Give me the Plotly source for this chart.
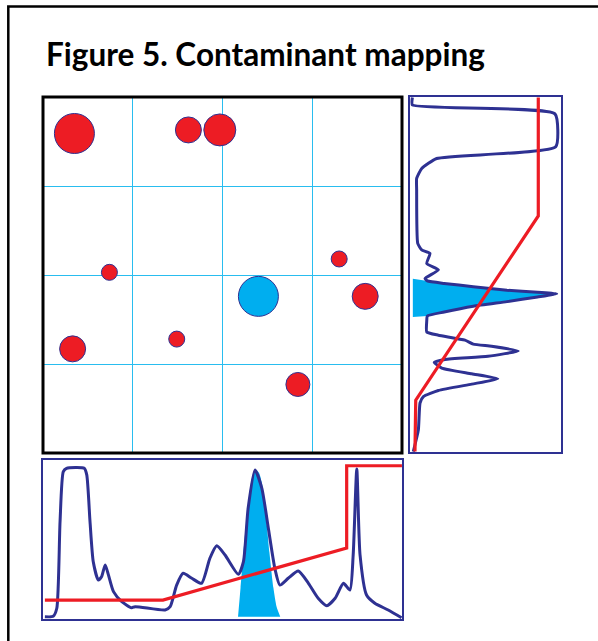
import plotly.graph_objects as go

W, H = 598, 641

# ---- contaminant map (grid units 0-4) ----
spot_x = [0.35, 1.62, 1.97, 0.74, 3.30, 2.40, 3.59, 1.49, 0.33, 2.84]
spot_y = [3.59, 3.63, 3.63, 2.03, 2.18, 1.76, 1.76, 1.28, 1.17, 0.77]
spot_d = [40, 26, 32, 16, 16, 40, 26, 16, 26, 24]
spot_kind = ["c", "c", "c", "c", "c", "target", "c", "c", "c", "c"]

# ---- side trace: detector signal vs elution time (time runs downward) ----
side_time = [0.4, 2.5, 5.0, 14.2, 17.5, 20.3, 23.1, 26.3, 41.3, 43.1, 44.1, 46.9,
             48.7, 51.1, 51.8, 52.5, 53.4, 54.4, 55.0, 55.4, 56.3, 57.6, 58.9,
             60.5, 61.6, 63.0, 66.1, 67.0, 68.4, 69.5, 70.1, 71.4, 72.9, 73.8,
             74.6, 76.2, 77.8, 79.2, 80.7, 82.5, 84.2, 86.0, 93.6, 99.6]
side_signal = [2.2, 2.2, 95.4, 95.9, 18.1, 8.3, 5.0, 5.0, 5.7, 8.3, 13.7, 11.6,
               19.2, 10.5, 12.0, 23.0, 42.0, 64.0, 84.0, 96.5, 84.0, 64.0, 42.0,
               23.0, 12.0, 11.6, 11.6, 19.2, 36.6, 42.0, 54.0, 71.4, 51.6, 23.5,
               16.5, 21.4, 41.0, 58.0, 41.0, 19.2, 9.4, 7.2, 6.1, 2.8]
side_peak_time = [51.2, 51.8, 52.5, 53.4, 54.4, 55.0, 55.4, 56.3, 57.6, 58.9, 60.5, 61.6, 61.9]
side_peak_signal = [2.5, 12.0, 23.0, 42.0, 64.0, 84.0, 96.5, 84.0, 64.0, 42.0, 23.0, 12.0, 2.5]
side_grad_time = [0.4, 33.6, 85.2, 99.6]
side_grad_level = [84.5, 84.5, 4.4, 3.9]

# ---- bottom trace: detector signal vs elution time ----
bot_time = [0.8, 3.1, 4.1, 5.0, 5.9, 6.8, 11.7, 12.4, 13.3, 14.2, 15.6, 16.5,
            17.5, 18.4, 19.8, 22.1, 24.8, 25.8, 34.1, 35.5, 37.3, 39.1, 41.5,
            44.2, 46.5, 48.4, 50.7, 54.4, 55.8, 57.1, 59.0, 60.9, 62.7, 64.5,
            65.9, 68.2, 71.0, 73.8, 76.5, 78.9, 81.2, 83.5, 85.3, 86.2, 87.2,
            88.1, 89.9, 92.2, 95.9, 99.6]
bot_signal = [2.0, 2.3, 7.3, 61.1, 92.1, 94.2, 94.2, 90.1, 61.1, 36.2, 24.8, 26.9,
              34.2, 28.0, 17.6, 11.4, 7.6, 8.3, 6.2, 8.3, 21.7, 29.0, 25.9,
              22.8, 38.3, 46.1, 40.4, 28.4, 36.2, 69.4, 93.2, 81.8, 57.0, 32.1,
              21.7, 25.9, 30.4, 22.8, 13.5, 8.9, 13.5, 22.8, 18.6, 40.4, 93.8,
              40.4, 15.5, 10.4, 6.2, 1.4]
bot_peak_time = [54.3, 55.0, 55.8, 56.8, 57.8, 58.6, 59.4, 60.2, 61.0, 62.0, 63.0, 64.1, 65.0, 66.0]
bot_peak_signal = [2.0, 20.0, 42.0, 66.0, 84.0, 91.5, 93.2, 91.0, 84.0, 66.0, 42.0, 20.0, 8.0, 2.0]
bot_grad_time = [0.8, 33.5, 84.4, 84.4, 99.7]
bot_grad_level = [12.4, 12.4, 44.7, 95.8, 95.8]

RED = "#ed1c24"
CYAN = "#00aeef"
NAVY = "#2e3192"


def px_x(p):
    return p / W


def px_y(p):
    return 1 - p / H


fig = go.Figure()

spot_colors = [CYAN if k == "target" else RED for k in spot_kind]
fig.add_trace(go.Scatter(
    x=spot_x, y=spot_y, mode="markers", xaxis="x", yaxis="y",
    marker=dict(size=spot_d, color=spot_colors, opacity=1,
                line=dict(color=NAVY, width=1)),
    hoverinfo="skip", showlegend=False))

# right panel
fig.add_trace(go.Scatter(
    x=side_peak_signal, y=side_peak_time, xaxis="x2", yaxis="y2",
    mode="lines", fill="toself", fillcolor=CYAN, line=dict(width=0, color=CYAN),
    hoverinfo="skip", showlegend=False))
fig.add_trace(go.Scatter(
    x=side_signal, y=side_time, xaxis="x2", yaxis="y2", mode="lines",
    line=dict(color=NAVY, width=3, shape="spline", smoothing=0.45),
    hoverinfo="skip", showlegend=False))
fig.add_trace(go.Scatter(
    x=side_grad_level, y=side_grad_time, xaxis="x2", yaxis="y2", mode="lines",
    line=dict(color=RED, width=3.2),
    hoverinfo="skip", showlegend=False))

# bottom panel
fig.add_trace(go.Scatter(
    x=bot_peak_time, y=bot_peak_signal, xaxis="x3", yaxis="y3",
    mode="lines", fill="toself", fillcolor=CYAN,
    line=dict(width=0, color=CYAN, shape="spline", smoothing=0.6),
    hoverinfo="skip", showlegend=False))
fig.add_trace(go.Scatter(
    x=bot_time, y=bot_signal, xaxis="x3", yaxis="y3", mode="lines",
    line=dict(color=NAVY, width=3, shape="spline", smoothing=0.6),
    hoverinfo="skip", showlegend=False))
fig.add_trace(go.Scatter(
    x=bot_grad_time, y=bot_grad_level, xaxis="x3", yaxis="y3", mode="lines",
    line=dict(color=RED, width=3.2),
    hoverinfo="skip", showlegend=False))

hidden = dict(showgrid=False, zeroline=False, showticklabels=False,
              ticks="", showline=False, fixedrange=True)

fig.update_layout(
    width=W, height=H, autosize=False,
    margin=dict(l=0, r=0, t=0, b=0, pad=0),
    paper_bgcolor="white", plot_bgcolor="white",
    showlegend=False,
    xaxis=dict(domain=[px_x(43), px_x(402)], range=[0, 4], dtick=1,
               showgrid=True, gridcolor="#29bdef", gridwidth=1,
               zeroline=False, showticklabels=False, ticks="", showline=False),
    yaxis=dict(domain=[px_y(453), px_y(97)], range=[0, 4], dtick=1,
               showgrid=True, gridcolor="#29bdef", gridwidth=1,
               zeroline=False, showticklabels=False, ticks="", showline=False),
    xaxis2=dict(domain=[px_x(409), px_x(562)], range=[0, 100], anchor="y2", **hidden),
    yaxis2=dict(domain=[px_y(453), px_y(96)], range=[100, 0], anchor="x2", **hidden),
    xaxis3=dict(domain=[px_x(42), px_x(403)], range=[0, 100], anchor="y3", **hidden),
    yaxis3=dict(domain=[px_y(620), px_y(459)], range=[0, 100], anchor="x3", **hidden),
    shapes=[
        # page frame (left and top edges visible)
        dict(type="rect", xref="paper", yref="paper",
             x0=px_x(8.3), x1=1.05, y0=-0.05, y1=px_y(6.5),
             line=dict(color="black", width=2.5)),
        dict(type="rect", xref="x domain", yref="y domain",
             x0=0, x1=1, y0=0, y1=1, line=dict(color="black", width=3)),
        dict(type="rect", xref="x2 domain", yref="y2 domain",
             x0=0, x1=1, y0=0, y1=1, line=dict(color=NAVY, width=2)),
        dict(type="rect", xref="x3 domain", yref="y3 domain",
             x0=0, x1=1, y0=0, y1=1, line=dict(color=NAVY, width=2)),
    ],
    annotations=[
        dict(text="<b>Figure 5. Contaminant mapping</b>", xref="paper", yref="paper",
             x=px_x(44), y=px_y(54), xanchor="left", yanchor="middle",
             showarrow=False, font=dict(family="Lato", size=31.5, color="black")),
    ],
)

fig.write_html("out.html")
